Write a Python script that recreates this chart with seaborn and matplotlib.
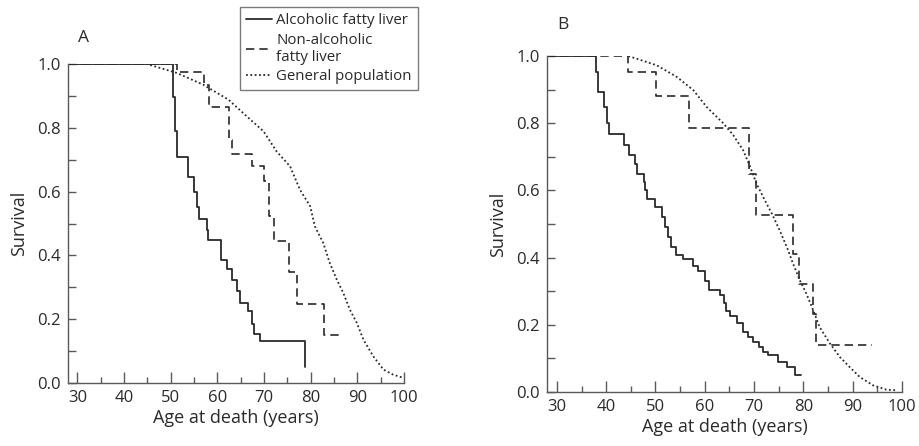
import numpy as np
import pandas as pd
import matplotlib
matplotlib.use('Agg')
import matplotlib.pyplot as plt
from matplotlib.ticker import MultipleLocator
import seaborn as sns

# ---- panel A : step times (years) and survival after each drop ----
a_alc_age = [28, 50.4, 50.9, 51.3, 53.8, 55.1, 55.6, 56.1, 57.7, 58.0, 60.8,
             62.0, 63.1, 64.3, 64.9, 66.6, 67.4, 67.9, 69.1, 78.8]
a_alc_surv = [1.0, 0.895, 0.79, 0.71, 0.646, 0.598, 0.552, 0.514, 0.481, 0.447,
              0.387, 0.357, 0.324, 0.287, 0.251, 0.225, 0.185, 0.154, 0.132, 0.049]

a_non_age = [28, 51.3, 57.1, 58.3, 62.4, 63.2, 67.4, 70.1, 71.0, 72.1, 75.3,
             77.0, 82.9, 87.0]
a_non_surv = [1.0, 0.974, 0.935, 0.865, 0.761, 0.719, 0.679, 0.634, 0.522,
              0.444, 0.347, 0.249, 0.152, 0.152]

a_gen_age = [28, 44.9, 51.3, 57.0, 62.4, 66.3, 69.9, 72.7, 75.6, 77.7, 79.9,
             80.9, 82.7, 84.1, 85.6, 87.0, 88.4, 89.9, 91.3, 93.4, 95.6, 97.7, 99.9]
a_gen_surv = [1.0, 1.0, 0.972, 0.935, 0.888, 0.836, 0.789, 0.726, 0.679, 0.606,
              0.554, 0.491, 0.439, 0.376, 0.324, 0.282, 0.230, 0.188, 0.136,
              0.084, 0.042, 0.026, 0.016]

# ---- panel B ----
b_alc_age = [28, 38.0, 38.3, 39.6, 40.1, 40.5, 43.6, 44.7, 45.9, 46.2, 47.6,
             47.9, 48.2, 49.9, 51.3, 51.9, 52.6, 53.1, 54.2, 55.5, 57.7, 58.7,
             60.0, 60.9, 63.0, 63.8, 64.4, 65.2, 66.5, 67.8, 68.8, 69.8, 70.9,
             71.9, 72.9, 74.9, 76.6, 78.3, 79.6]
b_alc_surv = [1.0, 0.952, 0.893, 0.848, 0.80, 0.767, 0.734, 0.704, 0.680, 0.650,
              0.625, 0.60, 0.575, 0.551, 0.521, 0.49, 0.46, 0.432, 0.407, 0.395,
              0.375, 0.36, 0.33, 0.305, 0.29, 0.265, 0.24, 0.225, 0.205, 0.18,
              0.165, 0.15, 0.135, 0.12, 0.11, 0.09, 0.075, 0.052, 0.052]

b_non_age = [28, 44.5, 50.1, 56.7, 68.9, 70.4, 77.8, 79.2, 81.9, 82.5, 94.0]
b_non_surv = [1.0, 0.952, 0.881, 0.786, 0.650, 0.526, 0.410, 0.320, 0.232,
              0.140, 0.140]

b_gen_age = [44.5, 50.3, 54.3, 57.7, 60.4, 63.8, 65.8, 67.8, 69.2, 70.5, 72.2,
             73.6, 75.2, 76.9, 77.9, 79.3, 80.6, 82.0, 83.3, 85.4, 87.4, 89.4,
             91.4, 94.1, 96.8, 98.9]
b_gen_surv = [1.0, 0.972, 0.938, 0.898, 0.848, 0.799, 0.764, 0.719, 0.670,
              0.620, 0.570, 0.531, 0.481, 0.422, 0.382, 0.332, 0.293, 0.243,
              0.193, 0.144, 0.104, 0.074, 0.045, 0.020, 0.007, 0.005]

labels = ['Alcoholic fatty liver', 'Non-alcoholic\nfatty liver', 'General population']

INK = '#2a2a2a'
AXC = '#5a5a5a'

sns.set_style('ticks')
plt.rcParams['font.family'] = ['Open Sans', 'DejaVu Sans']

fig = plt.figure(figsize=(9.19, 4.46), dpi=100)
ax_a = fig.add_axes([68 / 919, 1 - 383 / 446, (404 - 68) / 919, (383 - 64) / 446])
ax_b = fig.add_axes([547 / 919, 1 - 392 / 446, (902 - 547) / 919, (392 - 56) / 446])

panels = [
    (ax_a, [(a_alc_age, a_alc_surv), (a_non_age, a_non_surv), (a_gen_age, a_gen_surv)], 'A'),
    (ax_b, [(b_alc_age, b_alc_surv), (b_non_age, b_non_surv), (b_gen_age, b_gen_surv)], 'B'),
]
styles = [dict(linestyle='-', lw=1.3, drawstyle='steps-post'),
          dict(linestyle=(0, (5, 3)), lw=1.2, drawstyle='steps-post'),
          dict(linestyle=(0, (1, 1.4)), lw=1.3, drawstyle='default')]

for ax, series, tag in panels:
    # draw dotted first so solid/dashed sit on top
    for idx in [2, 1, 0]:
        age, surv = series[idx]
        df = pd.DataFrame({'age': age, 'surv': surv})
        sns.lineplot(data=df, x='age', y='surv', ax=ax, color=INK,
                     estimator=None, sort=False,
                     label=labels[idx] if ax is ax_a else None, **styles[idx])
    ax.set_xlim(28, 100)
    ax.set_ylim(0, 1.0)
    ax.xaxis.set_major_locator(MultipleLocator(10))
    ax.xaxis.set_minor_locator(MultipleLocator(5))
    ax.yaxis.set_minor_locator(MultipleLocator(0.1))
    ax.set_yticks(np.arange(0, 1.01, 0.2))
    ax.set_yticklabels([f'{v:.1f}' for v in np.arange(0, 1.01, 0.2)])
    ax.tick_params(which='both', direction='in', color=AXC, width=1.0,
                   labelsize=12, labelcolor=INK)
    ax.tick_params(axis='x', which='major', length=8, pad=5)
    ax.tick_params(axis='x', which='minor', length=4)
    ax.tick_params(axis='y', which='both', length=6, pad=5)
    for s in ['top', 'right']:
        ax.spines[s].set_visible(False)
    for s in ['left', 'bottom']:
        ax.spines[s].set_color(AXC)
        ax.spines[s].set_linewidth(1.0)
    ax.set_xlabel('Age at death (years)', fontsize=13, color=INK, labelpad=2)
    ax.set_ylabel('Survival', fontsize=13, color=INK, labelpad=7)
    if ax.get_legend() is not None:
        ax.get_legend().remove()

fig.text(83 / 919, 1 - 38 / 446, 'A', fontsize=12.5, color=INK, ha='center', va='center')
fig.text(563 / 919, 1 - 25 / 446, 'B', fontsize=12.5, color=INK, ha='center', va='center')

handles, labs = ax_a.get_legend_handles_labels()
order = [labs.index(l) for l in labels]
leg = fig.legend([handles[i] for i in order], labels, loc='upper left',
                 bbox_to_anchor=(240 / 919, 1 - 7 / 446), frameon=True,
                 fancybox=False, fontsize=10.8, handlelength=1.75, handletextpad=0.25,
                 borderpad=0.4, labelspacing=0.3, borderaxespad=0)
leg.get_frame().set_edgecolor(AXC)
leg.get_frame().set_linewidth(1.0)
for t in leg.get_texts():
    t.set_color(INK)
    t.set_linespacing(1.2)

fig.savefig('out.png', dpi=100)
